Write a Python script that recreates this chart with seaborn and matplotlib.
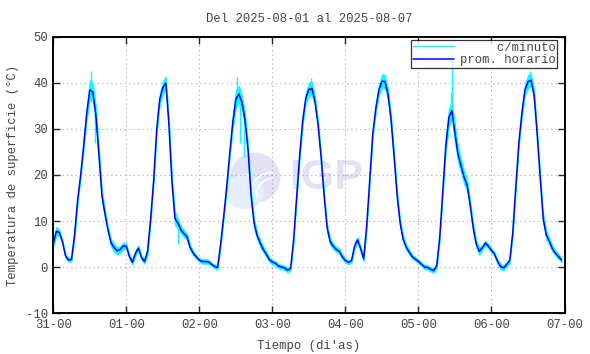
import numpy as np
import pandas as pd
import matplotlib
matplotlib.use('Agg')
import matplotlib.pyplot as plt
from matplotlib.patches import Ellipse, Arc
from matplotlib.lines import Line2D
import seaborn as sns

# hourly mean temperature (prom. horario), 31-00 .. 06-23
prom_horario = [
    5.0, 7.8, 7.5, 5.5, 2.5, 1.5, 1.7, 7.0, 14.5, 20.0, 26.5, 33.5, 38.5, 38.0, 33.0, 24.5, 15.5, 11.5, 8.0, 5.2, 4.2, 3.5, 3.8, 4.6,
    4.5, 2.3, 1.0, 3.0, 4.1, 2.0, 1.2, 3.5, 10.5, 19.0, 30.0, 36.5, 39.0, 40.0, 31.0, 18.5, 10.5, 9.5, 8.0, 7.2, 6.5, 4.2, 3.0, 2.2,
    1.5, 1.2, 1.2, 1.1, 0.6, 0.1, -0.1, 5.0, 11.0, 17.5, 24.8, 31.5, 36.5, 37.6, 35.8, 32.0, 25.5, 15.5, 9.5, 6.8, 5.2, 3.8, 2.8, 1.6,
    1.1, 0.8, 0.2, 0.0, -0.2, -0.7, -0.3, 6.0, 15.5, 24.5, 32.0, 36.8, 38.6, 38.8, 36.0, 31.0, 24.0, 15.5, 8.5, 5.5, 4.5, 3.8, 3.4, 2.2,
    1.4, 1.0, 1.4, 4.5, 5.9, 4.0, 1.8, 9.0, 19.0, 29.0, 34.5, 38.5, 40.4, 40.3, 37.5, 32.0, 24.0, 15.5, 9.5, 6.0, 4.3, 3.2, 2.2, 1.7,
    1.2, 0.6, 0.0, -0.1, -0.5, -0.8, 0.3, 6.5, 16.5, 26.5, 32.5, 34.0, 29.0, 24.5, 22.0, 19.5, 17.8, 13.5, 8.5, 5.0, 3.4, 4.2, 5.2, 4.5,
    3.6, 2.8, 1.2, 0.1, -0.2, 0.6, 1.4, 7.5, 17.5, 27.0, 33.5, 38.5, 40.3, 40.6, 37.5, 29.0, 19.5, 10.5, 7.0, 5.6, 4.0, 3.0, 2.3, 1.5,
]

# half-width of the per-minute scatter around the hourly mean (c/minuto)
dispersion = [
    0.6, 1.0, 0.6, 0.5, 0.4, 0.4, 0.5, 0.8, 0.8, 0.8, 1.0, 1.5, 2.2, 2.0, 2.0, 1.5, 1.2, 1.0, 0.8, 0.8, 0.9, 0.8, 0.7, 0.8,
    0.6, 0.5, 0.5, 0.6, 0.6, 0.5, 0.5, 0.8, 0.8, 0.8, 1.0, 1.2, 1.5, 1.2, 1.5, 1.2, 1.5, 1.0, 0.8, 0.8, 0.7, 0.6, 0.5, 0.4,
    0.4, 0.5, 0.5, 0.5, 0.4, 0.4, 0.5, 0.6, 0.8, 0.8, 1.0, 1.5, 2.0, 1.8, 1.5, 1.5, 1.2, 1.2, 1.0, 0.8, 0.8, 0.7, 0.6, 0.5,
    0.5, 0.5, 0.5, 0.5, 0.5, 0.5, 0.5, 0.6, 0.8, 0.8, 1.0, 1.2, 1.5, 1.5, 1.2, 1.0, 1.0, 1.0, 0.8, 0.8, 0.6, 0.6, 0.6, 0.5,
    0.5, 0.4, 0.5, 0.8, 0.6, 0.5, 0.6, 0.8, 0.8, 0.8, 1.0, 1.2, 1.5, 1.5, 1.2, 1.2, 1.0, 1.0, 0.8, 0.8, 0.6, 0.5, 0.5, 0.4,
    0.4, 0.4, 0.5, 0.5, 0.5, 0.5, 0.6, 0.8, 1.0, 1.5, 2.0, 2.0, 2.0, 1.8, 1.5, 1.5, 1.2, 1.0, 0.8, 0.8, 0.8, 0.6, 0.5, 0.5,
    0.5, 0.5, 0.5, 0.6, 0.5, 0.5, 0.6, 0.8, 0.8, 0.8, 1.0, 1.2, 1.5, 1.2, 1.2, 1.0, 1.0, 1.2, 1.0, 0.8, 0.7, 0.6, 0.6, 0.5,
]

# isolated per-minute spikes (hour, value)
pico_horas = [12.3, 13.8, 14.6, 36.8, 38.6, 41.0, 60.4, 61.4, 62.6, 84.8, 108.3, 110.8, 130.6, 131.0, 133.5, 156.8, 161.5]
pico_valores = [42.5, 27.0, 26.0, 41.5, 22.0, 5.0, 41.2, 27.0, 24.0, 41.0, 42.0, 33.0, 38.0, 46.5, 22.0, 42.5, 9.0]

dia_labels = ['31-00', '01-00', '02-00', '03-00', '04-00', '05-00', '06-00', '07-00']

df = pd.DataFrame({'hora': np.arange(len(prom_horario)), 'temp': prom_horario, 'disp': dispersion})

sns.set_style('ticks')
plt.rcParams['font.family'] = ['Liberation Mono', 'DejaVu Sans Mono']
plt.rcParams['axes.unicode_minus'] = False
txt_color = '#444444'

fig = plt.figure(figsize=(5.9, 3.54), dpi=100)
ax = fig.add_axes([0.0903, 0.1158, 0.8665, 0.7797])

# watermark (IGP logo)
ax.add_patch(Ellipse((0.395, 0.49), 0.098, 0.181, transform=ax.transAxes,
                     facecolor='#e2e2f6', edgecolor='none', zorder=0))
ax.add_patch(Ellipse((0.375, 0.44), 0.075, 0.13, transform=ax.transAxes,
                     facecolor='#e3effd', edgecolor='none', zorder=0))
for w, h in [(0.09, 0.16), (0.065, 0.115)]:
    ax.add_patch(Arc((0.43, 0.43), w, h, theta1=90, theta2=200, transform=ax.transAxes,
                     color='white', linewidth=1.2, zorder=0))
ax.text(0.462, 0.49, 'IGP', transform=ax.transAxes, fontsize=31, fontweight='bold',
        family='Liberation Sans', color='#e2e2f6', va='center', ha='left', zorder=0)

lo = df['temp'] - df['disp']
hi = df['temp'] + df['disp']
ax.fill_between(df['hora'], lo, hi, color='#00ffff', linewidth=0.6, zorder=2)
ax.vlines(pico_horas, np.interp(pico_horas, df['hora'], df['temp']), pico_valores,
          color='#00ffff', linewidth=1.0, zorder=2)
sns.lineplot(data=df, x='hora', y='temp', ax=ax, color='#0000ff', linewidth=1.1, zorder=3)

ax.set_xlim(0, 168)
ax.set_ylim(-10, 50)
ax.set_xticks(np.arange(0, 169, 24))
ax.set_xticklabels(dia_labels)
ax.set_yticks(np.arange(-10, 51, 10))
ax.grid(True, color='#a8a8a8', linestyle=(0, (1, 3)), linewidth=0.8, zorder=1)
ax.tick_params(direction='in', length=5, width=1, top=True, right=True,
               labelsize=8.8, labelcolor=txt_color, pad=4)
for s in ax.spines.values():
    s.set_linewidth(1.4)
    s.set_color('black')

ax.set_title('Del 2025-08-01 al 2025-08-07', fontsize=8.8, color=txt_color, pad=11)
ax.set_xlabel("Tiempo (di'as)", fontsize=8.8, color=txt_color, labelpad=7)
ax.set_ylabel('Temperatura de superficie (°C)', fontsize=8.8, color=txt_color, labelpad=5)

handles = [Line2D([], [], color='#00ffff', linewidth=1.0),
           Line2D([], [], color='#0000ff', linewidth=1.1)]
leg = ax.legend(handles, ['     c/minuto', 'prom. horario'], loc='upper right',
                bbox_to_anchor=(0.986, 0.99), fontsize=8.8, frameon=True, fancybox=False,
                handlelength=3.3, handletextpad=0.5, borderpad=0.15, labelspacing=0.05,
                borderaxespad=0)
leg.get_frame().set_edgecolor('black')
leg.get_frame().set_linewidth(0.9)
for t in leg.get_texts():
    t.set_color(txt_color)

fig.savefig('out.png', dpi=100)
